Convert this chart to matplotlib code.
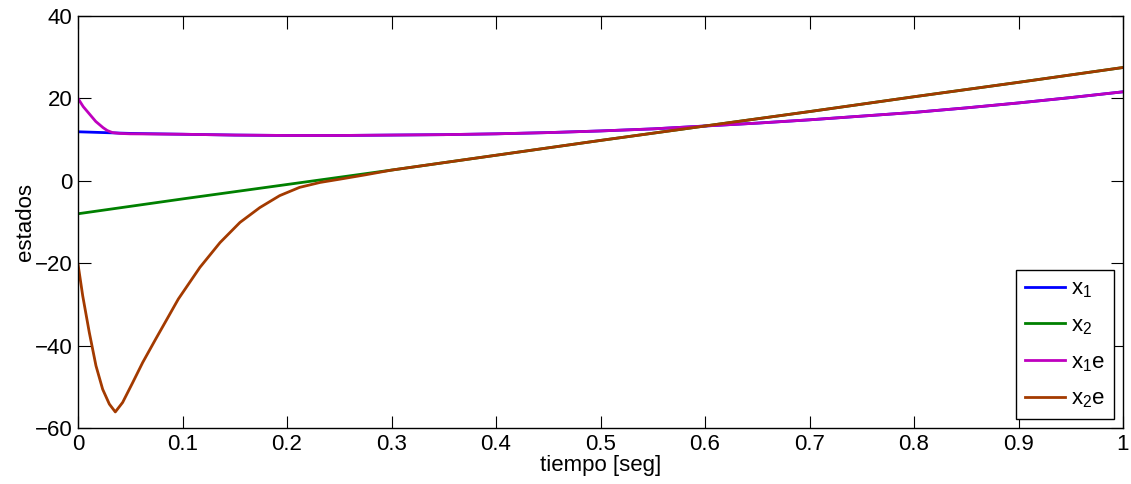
import matplotlib
matplotlib.use("Agg")
import matplotlib.pyplot as plt

# values
t_x1 = [0, 0.05, 0.1, 0.15, 0.2, 0.25, 0.3, 0.35, 0.4, 0.45, 0.5,
        0.55, 0.6, 0.65, 0.7, 0.75, 0.8, 0.85, 0.9, 0.95, 1.0]
x1 = [11.9, 11.5, 11.3, 11.1, 11.0, 11.0, 11.1, 11.2, 11.4, 11.7, 12.1,
      12.6, 13.3, 14.0, 14.8, 15.7, 16.6, 17.7, 18.9, 20.2, 21.6]

t_x2 = [0, 0.1, 0.2, 0.3, 0.4, 0.5, 0.6, 0.7, 0.8, 0.9, 1.0]
x2 = [-8.0, -4.4, -0.9, 2.6, 6.2, 9.8, 13.3, 16.8, 20.4, 23.9, 27.5]

t_x1e = [0, 0.005, 0.011, 0.017, 0.024, 0.028, 0.033, 0.04, 0.05, 0.1, 0.15,
         0.2, 0.25, 0.3, 0.35, 0.4, 0.45, 0.5, 0.55, 0.6, 0.65, 0.7, 0.75,
         0.8, 0.85, 0.9, 0.95, 1.0]
x1e = [20.0, 18.0, 16.2, 14.4, 12.9, 12.2, 11.7, 11.5, 11.4, 11.3, 11.1,
       11.0, 11.0, 11.1, 11.2, 11.4, 11.7, 12.1, 12.6, 13.3, 14.0, 14.8,
       15.7, 16.6, 17.7, 18.9, 20.2, 21.6]

t_x2e = [0, 0.0045, 0.0108, 0.0172, 0.0236, 0.030, 0.0357, 0.0427, 0.0523,
         0.0619, 0.0746, 0.0842, 0.096, 0.1167, 0.1359, 0.155, 0.174, 0.193,
         0.212, 0.2316, 0.2507, 0.275, 0.3, 0.4, 0.5, 0.6, 0.7, 0.8, 0.9, 1.0]
x2e = [-20.2, -27.9, -36.8, -44.9, -50.6, -54.2, -56.1, -53.8, -49.0,
       -44.1, -38.3, -34.0, -28.7, -21.0, -15.0, -10.1, -6.5, -3.6,
       -1.6, -0.4, 0.4, 1.45, 2.6, 6.2, 9.8, 13.3, 16.8, 20.4, 23.9, 27.5]

plt.rcParams['font.family'] = ['Liberation Sans', 'DejaVu Sans']
plt.rcParams['mathtext.fontset'] = 'custom'
plt.rcParams['mathtext.rm'] = 'Liberation Sans'
plt.rcParams['mathtext.it'] = 'Liberation Sans'
plt.rcParams['mathtext.default'] = 'rm'

fig = plt.figure(figsize=(11.31, 4.84), dpi=100)
ax = fig.add_axes([78 / 1131, 56 / 484, 1045 / 1131, 412 / 484])

lw = 2.0
ax.plot(t_x1, x1, color='#0000ff', lw=lw, label='x$_1$')
ax.plot(t_x2, x2, color='#008000', lw=lw, label='x$_2$')
ax.plot(t_x1e, x1e, color='#bf00bf', lw=lw, label='x$_1$e')
ax.plot(t_x2e, x2e, color='#a33a00', lw=lw, label='x$_2$e')

ax.set_xlim(0, 1)
ax.set_ylim(-60, 40)
ax.set_xticks([0, 0.1, 0.2, 0.3, 0.4, 0.5, 0.6, 0.7, 0.8, 0.9, 1])
ax.set_xticklabels(['0', '0.1', '0.2', '0.3', '0.4', '0.5', '0.6', '0.7', '0.8', '0.9', '1'])
ax.set_yticks([-60, -40, -20, 0, 20, 40])
ax.set_yticklabels(['\u221260', '\u221240', '\u221220', '0', '20', '40'])
ax.tick_params(direction='in', length=9, width=0.8, top=True, right=True,
               labelsize=16, pad=4)
for s in ax.spines.values():
    s.set_linewidth(1.0)

ax.set_xlabel('tiempo [seg]', fontsize=16, labelpad=0)
ax.set_ylabel('estados', fontsize=16, labelpad=-1)

leg = ax.legend(loc='lower right', fontsize=16, handlelength=1.8,
                labelspacing=0.68, borderaxespad=0.4, fancybox=False,
                framealpha=1, edgecolor='black', handletextpad=0.3,
                borderpad=0.4)
leg.get_frame().set_linewidth(1.0)

fig.savefig('out.png', dpi=100)
